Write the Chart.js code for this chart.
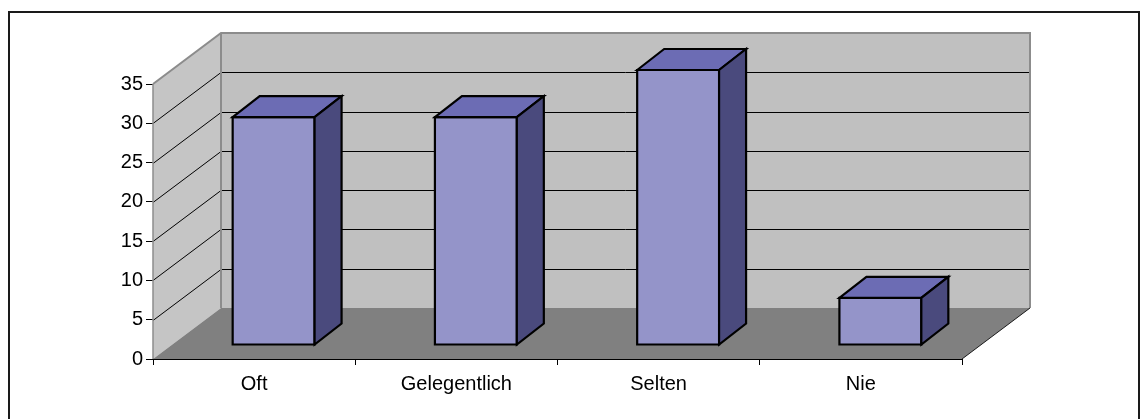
<!DOCTYPE html>
<html>
<head>
<meta charset="utf-8">
<script src="https://cdn.jsdelivr.net/npm/chart.js@4"></script>
<style>
  html, body { margin: 0; padding: 0; background: #fff; }
  canvas { display: block; }
</style>
</head>
<body>
<canvas id="c" width="1141" height="419"></canvas>
<script>
// Survey answers: how often
const categories = ['Oft', 'Gelegentlich', 'Selten', 'Nie'];
const values = [29, 29, 35, 6];
const yTicks = [0, 5, 10, 15, 20, 25, 30, 35];

// Oblique 3D look: depth vector of the plot box and the slab the bars occupy
const DEPTH_X = 68, DEPTH_Y = 51;
const BAR_NEAR = { x: 19.5, y: 14 };
const BAR_FAR = { x: 46.5, y: 35 };

const COLORS = {
  backWall: '#C0C0C0',
  sideWall: '#C5C5C5',
  floor: '#808080',
  wallEdge: '#8C8C8C',
  grid: '#000000',
  front: '#9494C9',
  top: '#6C6CB4',
  side: '#4A4A7D',
  outline: '#000000'
};

const FONT = { family: "'Liberation Sans', Arial, sans-serif", size: 20 };

const walls3d = {
  id: 'walls3d',
  beforeDraw(chart) {
    const ctx = chart.ctx;
    ctx.save();
    ctx.fillStyle = '#fff';
    ctx.fillRect(0, 0, chart.width, chart.height);
    ctx.strokeStyle = '#1a1a1a';
    ctx.lineWidth = 2;
    ctx.strokeRect(9, 12, 1130, 430);
    ctx.restore();
  },
  beforeDatasetsDraw(chart) {
    const ctx = chart.ctx;
    const a = chart.chartArea;
    const ys = chart.scales.y;
    const L = a.left, R = a.right, T = a.top, B = a.bottom;
    ctx.save();
    // left wall
    ctx.fillStyle = COLORS.sideWall;
    ctx.beginPath();
    ctx.moveTo(L, B); ctx.lineTo(L, T);
    ctx.lineTo(L + DEPTH_X, T - DEPTH_Y); ctx.lineTo(L + DEPTH_X, B - DEPTH_Y);
    ctx.closePath(); ctx.fill();
    // back wall
    ctx.fillStyle = COLORS.backWall;
    ctx.fillRect(L + DEPTH_X, T - DEPTH_Y, R - L, B - T);
    // floor
    ctx.fillStyle = COLORS.floor;
    ctx.beginPath();
    ctx.moveTo(L, B); ctx.lineTo(R, B);
    ctx.lineTo(R + DEPTH_X, B - DEPTH_Y); ctx.lineTo(L + DEPTH_X, B - DEPTH_Y);
    ctx.closePath(); ctx.fill();

    // gridlines on side and back walls
    ctx.strokeStyle = COLORS.grid;
    ctx.lineWidth = 1;
    yTicks.forEach(v => {
      if (v === yTicks[0] || v === yTicks[yTicks.length - 1]) return;
      const y = Math.round(ys.getPixelForValue(v)) + 0.5;
      ctx.beginPath();
      ctx.moveTo(L, y);
      ctx.lineTo(L + DEPTH_X, y - DEPTH_Y);
      ctx.lineTo(R + DEPTH_X, y - DEPTH_Y);
      ctx.stroke();
    });

    // wall edges
    ctx.strokeStyle = COLORS.wallEdge;
    ctx.lineWidth = 2;
    ctx.beginPath();
    ctx.moveTo(L, T);
    ctx.lineTo(L + DEPTH_X, T - DEPTH_Y);
    ctx.lineTo(R + DEPTH_X, T - DEPTH_Y);
    ctx.lineTo(R + DEPTH_X, B - DEPTH_Y);
    ctx.moveTo(L + DEPTH_X, T - DEPTH_Y);
    ctx.lineTo(L + DEPTH_X, B - DEPTH_Y);
    ctx.stroke();
    ctx.lineWidth = 1.5;
    ctx.beginPath();
    ctx.moveTo(L, T);
    ctx.lineTo(L, B);
    ctx.stroke();
    // floor's right edge
    ctx.strokeStyle = '#1a1a1a';
    ctx.lineWidth = 1;
    ctx.beginPath();
    ctx.moveTo(R, B);
    ctx.lineTo(R + DEPTH_X, B - DEPTH_Y);
    ctx.stroke();
    ctx.restore();
  },
  afterDatasetsDraw(chart) {
    const ctx = chart.ctx;
    const meta = chart.getDatasetMeta(0);
    ctx.save();
    ctx.lineWidth = 2.2;
    ctx.lineJoin = 'miter';
    ctx.strokeStyle = COLORS.outline;
    meta.data.forEach(el => {
      const p = el.getProps(['x', 'y', 'base', 'width'], true);
      const x0 = p.x - p.width / 2 + BAR_NEAR.x;
      const x1 = p.x + p.width / 2 + BAR_NEAR.x;
      const yT = p.y - BAR_NEAR.y;
      const yB = p.base - BAR_NEAR.y;
      const dx = BAR_FAR.x - BAR_NEAR.x;
      const dy = BAR_FAR.y - BAR_NEAR.y;
      // front face
      ctx.fillStyle = COLORS.front;
      ctx.beginPath();
      ctx.rect(x0, yT, x1 - x0, yB - yT);
      ctx.fill(); ctx.stroke();
      // top face
      ctx.fillStyle = COLORS.top;
      ctx.beginPath();
      ctx.moveTo(x0, yT); ctx.lineTo(x0 + dx, yT - dy);
      ctx.lineTo(x1 + dx, yT - dy); ctx.lineTo(x1, yT);
      ctx.closePath(); ctx.fill(); ctx.stroke();
      // side face
      ctx.fillStyle = COLORS.side;
      ctx.beginPath();
      ctx.moveTo(x1, yT); ctx.lineTo(x1 + dx, yT - dy);
      ctx.lineTo(x1 + dx, yB - dy); ctx.lineTo(x1, yB);
      ctx.closePath(); ctx.fill(); ctx.stroke();
    });
    ctx.restore();
  }
};

new Chart(document.getElementById('c'), {
  type: 'bar',
  data: {
    labels: categories,
    datasets: [{
      data: values,
      backgroundColor: 'rgba(0,0,0,0)',
      borderWidth: 0,
      categoryPercentage: 1,
      barPercentage: 0.405
    }]
  },
  options: {
    responsive: false,
    animation: false,
    devicePixelRatio: 1,
    layout: { padding: { left: 0, right: 179, top: 84, bottom: 0 } },
    plugins: { legend: { display: false }, tooltip: { enabled: false } },
    scales: {
      x: {
        grid: { offset: true, drawOnChartArea: false, drawTicks: true, tickLength: 6, color: '#000' },
        border: { display: true, color: '#000', width: 1 },
        ticks: { color: '#000', font: FONT, padding: 7, maxRotation: 0 },
        afterFit(s) { s.height = 60; }
      },
      y: {
        min: 0, max: 35,
        grid: { drawOnChartArea: false, drawTicks: true, tickLength: 7, color: '#000' },
        border: { display: true, color: '#000', width: 1 },
        ticks: {
          color: '#000', font: FONT, padding: 3,
          stepSize: 5,
          callback: (v) => yTicks.includes(v) ? String(v) : ''
        },
        afterFit(s) { s.width = 153; }
      }
    }
  },
  plugins: [walls3d]
});
</script>
</body>
</html>
